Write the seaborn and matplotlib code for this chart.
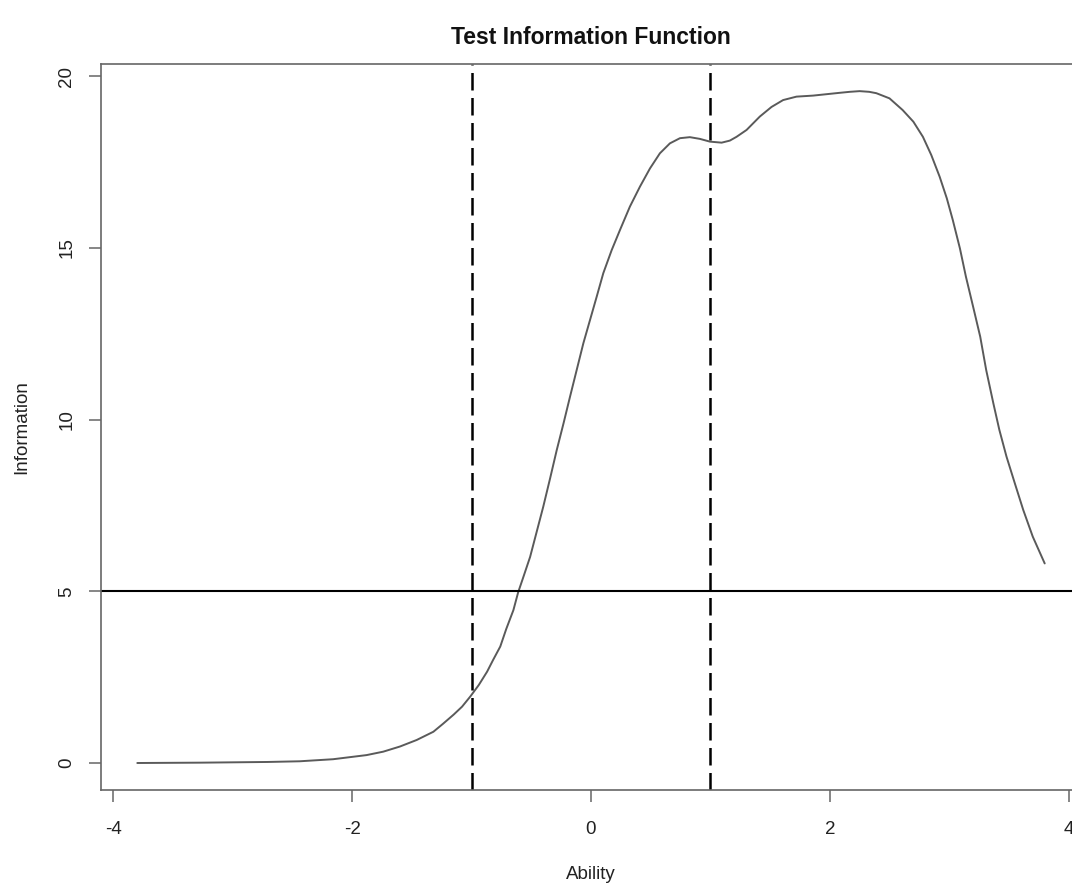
import numpy as np
import pandas as pd
import seaborn as sns
import matplotlib
matplotlib.use("Agg")
import matplotlib.pyplot as plt

ability = [-3.80, -3.27, -2.71, -2.44, -2.16, -1.88, -1.74, -1.60, -1.46, -1.32,
           -1.24, -1.15, -1.08, -1.01, -0.94, -0.87, -0.82, -0.76, -0.71, -0.65,
           -0.61, -0.566, -0.51, -0.455, -0.40, -0.343, -0.287, -0.23, -0.176, -0.12,
           -0.064, -0.008, 0.048, 0.103, 0.173, 0.243, 0.326, 0.41, 0.494, 0.577,
           0.661, 0.745, 0.828, 0.912, 0.996, 1.094, 1.163, 1.219, 1.303, 1.414,
           1.512, 1.609, 1.721, 1.86, 1.97, 2.08, 2.167, 2.25, 2.33, 2.39,
           2.50, 2.61, 2.70, 2.78, 2.85, 2.92, 2.98, 3.03, 3.09, 3.14,
           3.20, 3.26, 3.31, 3.37, 3.42, 3.48, 3.55, 3.62, 3.70, 3.80]
information = [0.00, 0.01, 0.03, 0.05, 0.11, 0.23, 0.33, 0.48, 0.67, 0.91,
               1.14, 1.41, 1.64, 1.94, 2.27, 2.66, 3.00, 3.39, 3.90, 4.45,
               4.97, 5.42, 6.00, 6.73, 7.46, 8.28, 9.11, 9.89, 10.66, 11.44,
               12.22, 12.90, 13.58, 14.26, 14.93, 15.52, 16.20, 16.78, 17.31, 17.75,
               18.04, 18.19, 18.22, 18.17, 18.09, 18.06, 18.12, 18.23, 18.43, 18.82,
               19.10, 19.30, 19.40, 19.43, 19.47, 19.51, 19.54, 19.56, 19.54, 19.50,
               19.35, 19.01, 18.67, 18.23, 17.70, 17.07, 16.44, 15.81, 14.98, 14.16,
               13.29, 12.41, 11.44, 10.47, 9.70, 8.92, 8.14, 7.37, 6.59, 5.81]
cut_lines = [-1, 1]
info_threshold = 5
x_ticks = [-4, -2, 0, 2, 4]
y_ticks = [0, 5, 10, 15, 20]

sns.set_style("white")
plt.rcParams['font.family'] = ['Liberation Sans', 'DejaVu Sans']

df = pd.DataFrame({"Ability": ability, "Information": information})

fig = plt.figure(figsize=(10.72, 8.83), dpi=100)
ax = fig.add_axes([101/1072, 93/883, 980/1072, 726/883])

sns.lineplot(data=df, x="Ability", y="Information", ax=ax, color="#5a5a5a", linewidth=1.4)
for xv in cut_lines:
    ax.axvline(xv, color="black", linewidth=1.8, dashes=(7, 3))
ax.axhline(info_threshold, color="black", linewidth=1.5)

ax.set_xlim(-4.104, 4.104)
ax.set_ylim(-0.786, 20.35)
ax.set_xticks(x_ticks)
ax.set_yticks(y_ticks)
ax.set_xticklabels([str(t) for t in x_ticks])
ax.set_yticklabels([str(t) for t in y_ticks], rotation=90, va="center")

for s in ax.spines.values():
    s.set_color("#666666")
    s.set_linewidth(1.2)
ax.tick_params(bottom=True, left=True, direction="out", length=8.5, width=1.1,
               color="#666666", labelsize=13.5, labelcolor="#222222")
ax.tick_params(axis="x", pad=14)
ax.tick_params(axis="y", pad=10)

ax.set_xlabel("Ability", fontsize=13.5, color="#222222", labelpad=20)
ax.set_ylabel("Information", fontsize=13.5, color="#222222", labelpad=20)
fig.text(591/1072, 1 - 38/883, "Test Information Function", ha="center", va="center",
         fontsize=16.5, fontweight="bold", color="#111111")

fig.savefig("out.png", dpi=100)
